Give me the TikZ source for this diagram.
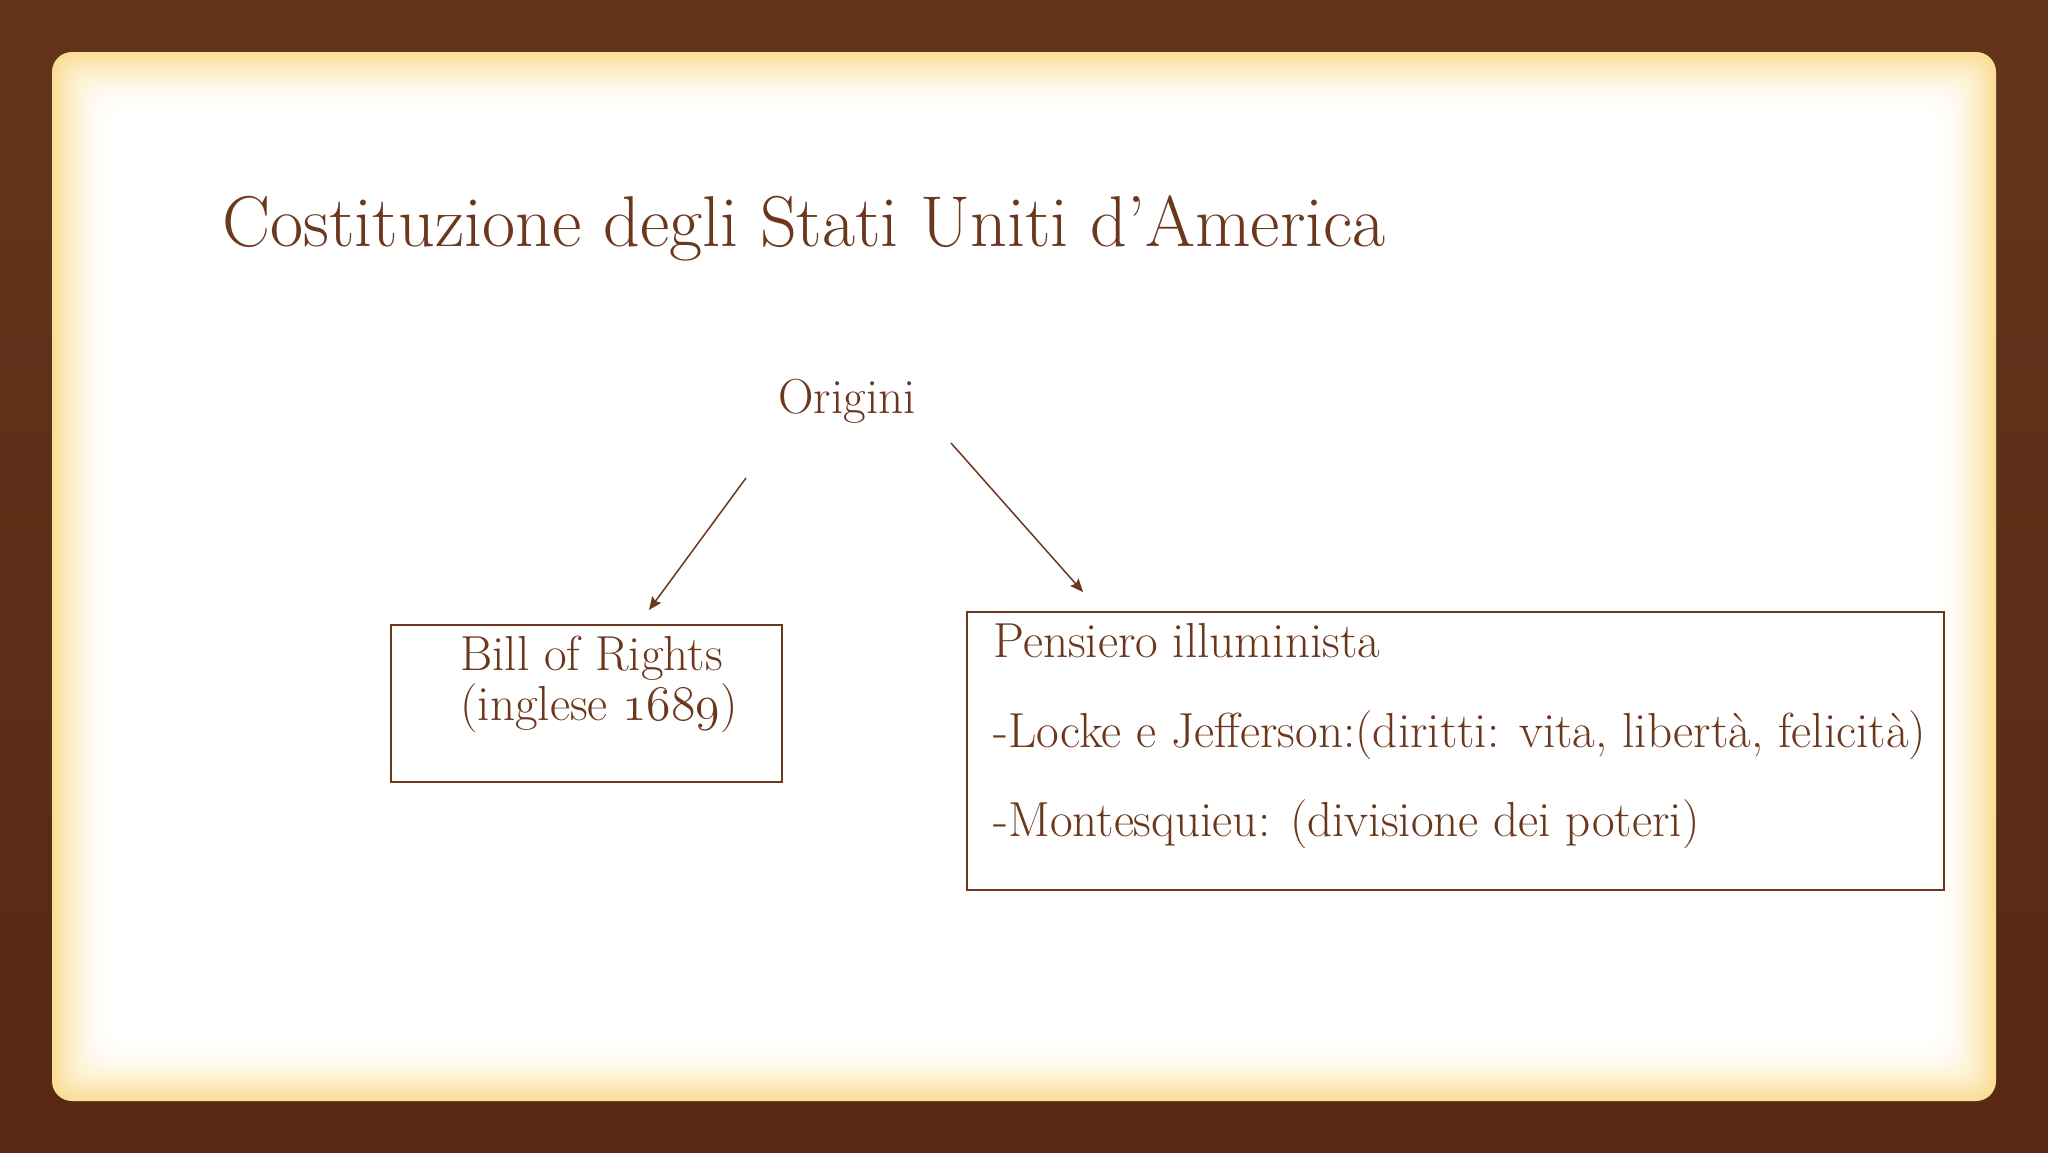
\documentclass[tikz,border=0pt]{standalone}
\usepackage{fontspec}
\usetikzlibrary{arrows.meta}
\definecolor{bgtop}{RGB}{101,52,28}
\definecolor{bgbot}{RGB}{88,40,20}
\definecolor{txt}{RGB}{107,56,30}
\definecolor{glow}{RGB}{250,222,150}
\newcommand{\bodyfont}{\fontsize{24.6}{30}\selectfont}
\begin{document}
\begin{tikzpicture}[x=0.5pt,y=-0.5pt,
  every node/.style={text=txt, inner sep=0pt},
  txtline/.style={anchor=base west, font=\bodyfont},
  boxst/.style={draw=txt, line width=1pt, anchor=north west},
  arr/.style={draw=txt, line width=0.75pt, -{Stealth[length=6.5pt,width=5.5pt,inset=1pt]}}]
\useasboundingbox (0,0) rectangle (2048,1152);
% background
\shade[top color=bgtop, bottom color=bgbot] (0,0) rectangle (2048,1152);
% panel with glow (opaque colour steps, no transparency)
\foreach \i in {0,...,24}{
  \pgfmathtruncatemacro{\p}{100*(1-(1-\i/24)^2)}
  \fill[white!\p!glow, rounded corners=10pt]
    ({52+\i*2.6},{52+\i*2.6}) rectangle ({1996-\i*2.6},{1101-\i*2.6});
}
% title
\node[anchor=base west, font=\fontsize{36}{44}\selectfont] (title) at (222,246)
  {Costituzione degli Stati Uniti d’America};
% origin
\node[txtline] (orig) at (778,413) {Origini};
% boxes
\node[boxst, minimum width=195.5pt, minimum height=78.5pt] (bill) at (390,624) {};
\node[boxst, minimum width=488.5pt, minimum height=139pt] (pens) at (966,611) {};
% box texts
\node[txtline] (b1) at (460,670) {Bill of Rights};
\node[txtline] (b2) at (460,720) {(inglese $\mathnormal{1689}$)};
\node[txtline] (p1) at (993,657) {Pensiero illuminista};
\node[txtline] (p2) at (993,747) {-Locke e Jefferson:(diritti: vita, libertà, felicità)};
\node[txtline] (p3) at (993,836) {-Montesquieu: (divisione dei poteri)};
% connectors
\coordinate (a1s) at (746,478);
\coordinate (a1e) at (649,610);
\coordinate (a2s) at (951,443);
\coordinate (a2e) at (1083,592);
\draw[arr] (a1s) -- (a1e);
\draw[arr] (a2s) -- (a2e);
\end{tikzpicture}
\end{document}
